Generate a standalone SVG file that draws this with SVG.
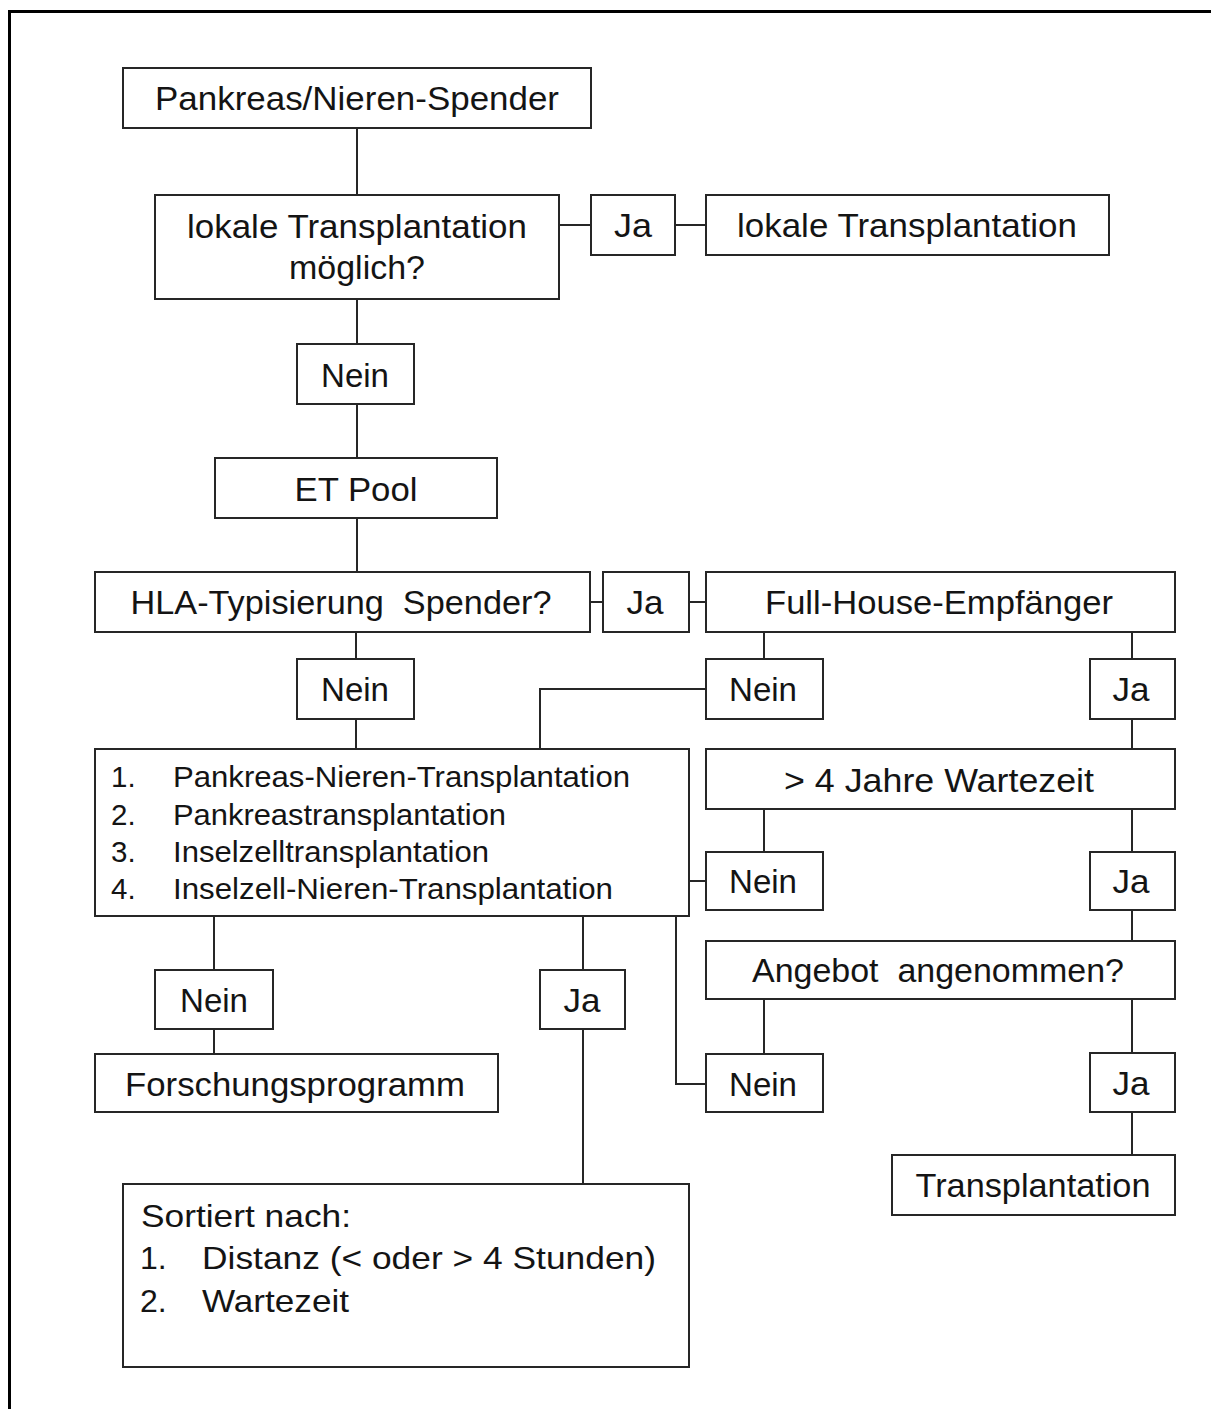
<svg xmlns="http://www.w3.org/2000/svg" width="1211" height="1409" viewBox="0 0 1211 1409">
  <style>
    .box { fill: #ffffff; stroke: #262626; stroke-width: 2; }
    .wire { fill: none; stroke: #262626; stroke-width: 2; }
    .t { font-family: "Liberation Sans", Arial, sans-serif; font-size: 33px; fill: #141414; white-space: pre; }
    .c { text-anchor: middle; }
    .s { font-size: 29.5px; }
    .m { font-size: 32px; }
  </style>

  <rect x="0" y="0" width="1211" height="1409" fill="#ffffff"/>
  <!-- page frame (top and left edges) -->
  <path d="M9.5,1409 V11.5 H1211" fill="none" stroke="#000000" stroke-width="3"/>

  <!-- connectors -->
  <g id="connectors" class="wire">
    <line x1="357" y1="128" x2="357" y2="195"/>
    <line x1="559" y1="225" x2="591" y2="225"/>
    <line x1="675" y1="225" x2="706" y2="225"/>
    <line x1="357" y1="299" x2="357" y2="344"/>
    <line x1="357" y1="404" x2="357" y2="458"/>
    <line x1="357" y1="518" x2="357" y2="572"/>
    <line x1="590" y1="602" x2="603" y2="602"/>
    <line x1="689" y1="602" x2="706" y2="602"/>
    <line x1="356" y1="632" x2="356" y2="659"/>
    <line x1="356" y1="719" x2="356" y2="749"/>
    <line x1="764" y1="632" x2="764" y2="659"/>
    <line x1="1132" y1="632" x2="1132" y2="659"/>
    <polyline points="706,689 540,689 540,749"/>
    <line x1="1132" y1="719" x2="1132" y2="749"/>
    <line x1="764" y1="809" x2="764" y2="852"/>
    <line x1="1132" y1="809" x2="1132" y2="852"/>
    <line x1="689" y1="881" x2="706" y2="881"/>
    <line x1="1132" y1="910" x2="1132" y2="941"/>
    <line x1="764" y1="999" x2="764" y2="1054"/>
    <line x1="1132" y1="999" x2="1132" y2="1053"/>
    <line x1="1132" y1="1112" x2="1132" y2="1155"/>
    <polyline points="676,916 676,1084 706,1084"/>
    <line x1="214" y1="916" x2="214" y2="970"/>
    <line x1="214" y1="1029" x2="214" y2="1054"/>
    <line x1="583" y1="916" x2="583" y2="970"/>
    <line x1="583" y1="1029" x2="583" y2="1184"/>
  </g>

  <g id="donor">
    <rect class="box" x="123" y="68" width="468" height="60"/>
    <text class="t c" x="357" y="110" textLength="404" lengthAdjust="spacingAndGlyphs">Pankreas/Nieren-Spender</text>
  </g>

  <g id="local-possible">
    <rect class="box" x="155" y="195" width="404" height="104"/>
    <text class="t c" x="357" y="238" textLength="340" lengthAdjust="spacingAndGlyphs">lokale Transplantation</text>
    <text class="t c" x="357" y="279" textLength="136" lengthAdjust="spacingAndGlyphs">möglich?</text>
  </g>

  <g id="local-yes">
    <rect class="box" x="591" y="195" width="84" height="60"/>
    <text class="t c" x="633" y="237" textLength="38" lengthAdjust="spacingAndGlyphs">Ja</text>
  </g>

  <g id="local-transplant">
    <rect class="box" x="706" y="195" width="403" height="60"/>
    <text class="t c" x="907" y="237" textLength="340" lengthAdjust="spacingAndGlyphs">lokale Transplantation</text>
  </g>

  <g id="local-no">
    <rect class="box" x="297" y="344" width="117" height="60"/>
    <text class="t c" x="355" y="387" textLength="68" lengthAdjust="spacingAndGlyphs">Nein</text>
  </g>

  <g id="et-pool">
    <rect class="box" x="215" y="458" width="282" height="60"/>
    <text class="t c" x="356" y="501" textLength="123" lengthAdjust="spacingAndGlyphs">ET Pool</text>
  </g>

  <g id="hla">
    <rect class="box" x="95" y="572" width="495" height="60"/>
    <text class="t c" x="341" y="614" textLength="421" lengthAdjust="spacingAndGlyphs">HLA-Typisierung  Spender?</text>
  </g>

  <g id="hla-yes">
    <rect class="box" x="603" y="572" width="86" height="60"/>
    <text class="t c" x="645" y="614" textLength="37" lengthAdjust="spacingAndGlyphs">Ja</text>
  </g>

  <g id="full-house">
    <rect class="box" x="706" y="572" width="469" height="60"/>
    <text class="t c" x="939" y="614" textLength="348" lengthAdjust="spacingAndGlyphs">Full-House-Empfänger</text>
  </g>

  <g id="hla-no">
    <rect class="box" x="297" y="659" width="117" height="60"/>
    <text class="t c" x="355" y="701" textLength="68" lengthAdjust="spacingAndGlyphs">Nein</text>
  </g>

  <g id="fh-no">
    <rect class="box" x="706" y="659" width="117" height="60"/>
    <text class="t c" x="763" y="701" textLength="68" lengthAdjust="spacingAndGlyphs">Nein</text>
  </g>

  <g id="fh-yes">
    <rect class="box" x="1090" y="659" width="85" height="60"/>
    <text class="t c" x="1131" y="701" textLength="37" lengthAdjust="spacingAndGlyphs">Ja</text>
  </g>

  <g id="priority-list">
    <rect class="box" x="95" y="749" width="594" height="167"/>
    <text class="t s" x="111" y="787">1.</text>
    <text class="t s" x="173" y="787" textLength="457" lengthAdjust="spacingAndGlyphs">Pankreas-Nieren-Transplantation</text>
    <text class="t s" x="111" y="825">2.</text>
    <text class="t s" x="173" y="825" textLength="333" lengthAdjust="spacingAndGlyphs">Pankreastransplantation</text>
    <text class="t s" x="111" y="862">3.</text>
    <text class="t s" x="173" y="862" textLength="316" lengthAdjust="spacingAndGlyphs">Inselzelltransplantation</text>
    <text class="t s" x="111" y="899">4.</text>
    <text class="t s" x="173" y="899" textLength="440" lengthAdjust="spacingAndGlyphs">Inselzell-Nieren-Transplantation</text>
  </g>

  <g id="waiting-time">
    <rect class="box" x="706" y="749" width="469" height="60"/>
    <text class="t c" x="939" y="792" textLength="310" lengthAdjust="spacingAndGlyphs">&gt; 4 Jahre Wartezeit</text>
  </g>

  <g id="wait-no">
    <rect class="box" x="706" y="852" width="117" height="58"/>
    <text class="t c" x="763" y="893" textLength="68" lengthAdjust="spacingAndGlyphs">Nein</text>
  </g>

  <g id="wait-yes">
    <rect class="box" x="1090" y="852" width="85" height="58"/>
    <text class="t c" x="1131" y="893" textLength="37" lengthAdjust="spacingAndGlyphs">Ja</text>
  </g>

  <g id="offer">
    <rect class="box" x="706" y="941" width="469" height="58"/>
    <text class="t c" x="938" y="982" textLength="372" lengthAdjust="spacingAndGlyphs">Angebot  angenommen?</text>
  </g>

  <g id="list-no">
    <rect class="box" x="155" y="970" width="118" height="59"/>
    <text class="t c" x="214" y="1012" textLength="68" lengthAdjust="spacingAndGlyphs">Nein</text>
  </g>

  <g id="list-yes">
    <rect class="box" x="540" y="970" width="85" height="59"/>
    <text class="t c" x="582" y="1012" textLength="37" lengthAdjust="spacingAndGlyphs">Ja</text>
  </g>

  <g id="research">
    <rect class="box" x="95" y="1054" width="403" height="58"/>
    <text class="t c" x="295" y="1096" textLength="340" lengthAdjust="spacingAndGlyphs">Forschungsprogramm</text>
  </g>

  <g id="offer-no">
    <rect class="box" x="706" y="1054" width="117" height="58"/>
    <text class="t c" x="763" y="1096" textLength="68" lengthAdjust="spacingAndGlyphs">Nein</text>
  </g>

  <g id="offer-yes">
    <rect class="box" x="1090" y="1053" width="85" height="59"/>
    <text class="t c" x="1131" y="1095" textLength="37" lengthAdjust="spacingAndGlyphs">Ja</text>
  </g>

  <g id="transplant">
    <rect class="box" x="892" y="1155" width="283" height="60"/>
    <text class="t c" x="1033" y="1197" textLength="235" lengthAdjust="spacingAndGlyphs">Transplantation</text>
  </g>

  <g id="sorting">
    <rect class="box" x="123" y="1184" width="566" height="183"/>
    <text class="t m" x="141" y="1227" textLength="210" lengthAdjust="spacingAndGlyphs">Sortiert nach:</text>
    <text class="t m" x="140" y="1269">1.</text>
    <text class="t m" x="202" y="1269" textLength="454" lengthAdjust="spacingAndGlyphs">Distanz (&lt; oder &gt; 4 Stunden)</text>
    <text class="t m" x="140" y="1312">2.</text>
    <text class="t m" x="202" y="1312" textLength="147" lengthAdjust="spacingAndGlyphs">Wartezeit</text>
  </g>
</svg>
